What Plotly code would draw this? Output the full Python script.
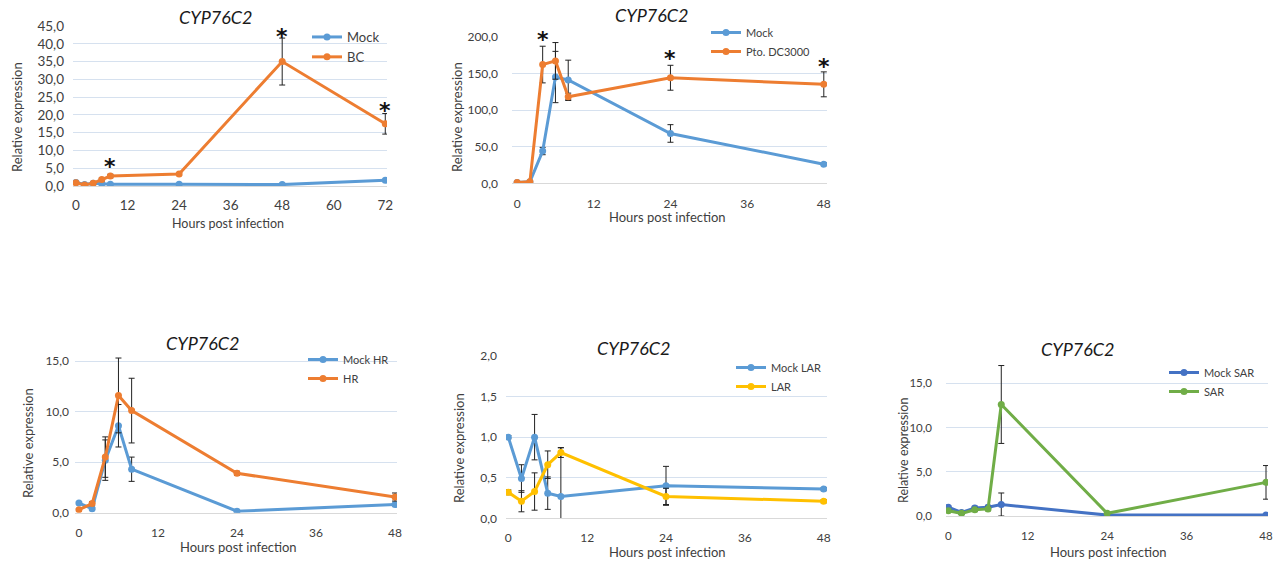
import plotly.graph_objects as go

W, H = 1282, 565

# ---------------- data ----------------
t1 = [0, 2, 4, 6, 8, 24, 48, 72]
mock1 = [1.0, 0.4, 0.8, 0.6, 0.5, 0.5, 0.4, 1.6]
mock1_err = [0.1, 0.1, 0.1, 0.1, 0.1, 0.1, 0.1, 0.2]
bc1 = [0.9, 0.3, 0.8, 1.8, 2.8, 3.4, 35.0, 17.5]
bc1_err = [0.2, 0.1, 0.2, 0.4, 0.5, 0.4, 6.6, 2.9]
star1_t = [8, 48, 72]
star1_y = [6.4, 43.0, 22.0]

t2 = [0, 2, 4, 6, 8, 24, 48]
mock2 = [1, 2, 44, 145, 141, 68, 26]
mock2_err = [0.5, 0.5, 5, 35, 27, 12, 2]
pto2 = [1, 2, 162, 167, 118, 144, 135]
pto2_err = [0.5, 0.5, 25, 25, 5, 17, 17]
star2_t = [4, 24, 48]
star2_y = [200, 175, 164]

t3 = [0, 2, 4, 6, 8, 24, 48]
mockhr = [0.95, 0.4, 5.2, 8.6, 4.3, 0.15, 0.8]
mockhr_err = [0.1, 0.1, 2.0, 2.1, 1.2, 0.05, 0.1]
hr = [0.3, 0.9, 5.5, 11.6, 10.1, 3.9, 1.55]
hr_err = [0.1, 0.2, 2.0, 3.7, 3.2, 0.2, 0.4]

t4 = [0, 2, 4, 6, 8, 24, 48]
mocklar = [1.0, 0.49, 1.0, 0.31, 0.27, 0.40, 0.36]
mocklar_err = [0.02, 0.17, 0.28, 0.2, 0.6, 0.24, 0.02]
lar = [0.32, 0.21, 0.33, 0.66, 0.81, 0.27, 0.21]
lar_err = [0.03, 0.13, 0.23, 0.17, 0.06, 0.1, 0.02]

t5 = [0, 2, 4, 6, 8, 24, 48]
mocksar = [1.0, 0.4, 0.9, 1.0, 1.3, 0.1, 0.1]
mocksar_err = [0.1, 0.1, 0.2, 0.2, 1.3, 0.05, 0.05]
sar = [0.6, 0.3, 0.7, 0.8, 12.6, 0.3, 3.8]
sar_err = [0.1, 0.1, 0.2, 0.2, 4.4, 0.1, 1.9]

title_text = "CYP76C2"
xlab = "Hours post infection"
ylab = "Relative expression"

BLUE = "#5B9BD5"
ORANGE = "#ED7D31"
YELLOW = "#FFC000"
DBLUE = "#4472C4"
GREEN = "#70AD47"
GRID = "#d6e1ef"
TXT = "#404040"
FONT = "Lato"


def px(x):
    return x / W


def py(y):
    return 1 - y / H


fig = go.Figure()

panels = [
    dict(xd=(73, 387), yd=(26, 186), xr=[-0.7, 72.4], yr=[0, 45], dt=5, xt=[0, 12, 24, 36, 48, 60, 72],
         xs=7, ys=8, fs=13.5),
    dict(xd=(512, 827), yd=(36.7, 183.3), xr=[-0.8, 48.5], yr=[0, 200], dt=50, xt=[0, 12, 24, 36, 48],
         xs=9, ys=13, fs=12),
    dict(xd=(75, 397), yd=(355, 512.7), xr=[-0.6, 48.3], yr=[0, 15.6], dt=5, xt=[0, 12, 24, 36, 48],
         xs=9, ys=5, fs=12),
    dict(xd=(506, 827), yd=(356, 518.3), xr=[-0.35, 48.5], yr=[0, 2], dt=0.5, xt=[0, 12, 24, 36, 48],
         xs=8, ys=8, fs=12),
    dict(xd=(946, 1268), yd=(362, 516), xr=[-0.35, 48.3], yr=[0, 17.4], dt=5, xt=[0, 12, 24, 36, 48],
         xs=9, ys=13, fs=11.5),
]

layout_axes = {}
for i, p in enumerate(panels, start=1):
    xa = "xaxis" if i == 1 else f"xaxis{i}"
    ya = "yaxis" if i == 1 else f"yaxis{i}"
    layout_axes[xa] = dict(
        domain=[px(p["xd"][0]), px(p["xd"][1])], range=p["xr"], anchor=f"y{'' if i == 1 else i}",
        tickvals=p["xt"], showgrid=False, zeroline=False, showline=True, linecolor="#d9d9d9",
        linewidth=1, ticks="", tickfont=dict(family=FONT, size=p["fs"], color=TXT),
        ticklabelstandoff=p["xs"], fixedrange=True, automargin=False,
    )
    layout_axes[ya] = dict(
        domain=[py(p["yd"][1]), py(p["yd"][0])], range=p["yr"], anchor=f"x{'' if i == 1 else i}",
        dtick=p["dt"], tick0=0, tickformat=".1f", showgrid=True, gridcolor=GRID, gridwidth=1,
        zeroline=False, showline=False, ticks="", tickfont=dict(family=FONT, size=p["fs"], color=TXT),
        ticklabelstandoff=p["ys"], fixedrange=True, automargin=False,
    )


def add_series(xs, ys, err, color, name, idx):
    fig.add_trace(go.Scatter(
        x=xs, y=ys, name=name, mode="lines+markers",
        line=dict(color=color, width=3),
        marker=dict(color=color, size=7, symbol="circle"),
        error_y=dict(type="data", array=err, visible=True, color="#222222", thickness=1, width=3),
        xaxis=f"x{'' if idx == 1 else idx}", yaxis=f"y{'' if idx == 1 else idx}",
        legend="legend" if idx == 1 else f"legend{idx}",
    ))


add_series(t1, mock1, mock1_err, BLUE, "Mock", 1)
add_series(t1, bc1, bc1_err, ORANGE, "BC", 1)
add_series(t2, mock2, mock2_err, BLUE, "Mock", 2)
add_series(t2, pto2, pto2_err, ORANGE, "Pto. DC3000", 2)
add_series(t3, mockhr, mockhr_err, BLUE, "Mock HR", 3)
add_series(t3, hr, hr_err, ORANGE, "HR", 3)
add_series(t4, mocklar, mocklar_err, BLUE, "Mock LAR", 4)
add_series(t4, lar, lar_err, YELLOW, "LAR", 4)
add_series(t5, mocksar, mocksar_err, DBLUE, "Mock SAR", 5)
add_series(t5, sar, sar_err, GREEN, "SAR", 5)

annotations = []

for tx, ty in zip(star1_t, star1_y):
    annotations.append(dict(x=tx, y=ty, xref="x", yref="y", text="<b>*</b>", showarrow=False,
                            font=dict(family="DejaVu Sans", size=22, color="#111111"), yshift=-3))
for tx, ty in zip(star2_t, star2_y):
    annotations.append(dict(x=tx, y=ty, xref="x2", yref="y2", text="<b>*</b>", showarrow=False,
                            font=dict(family="DejaVu Sans", size=22, color="#111111"), yshift=-3))

titles = [(215, 17), (651, 15), (202, 343), (633, 348), (1077, 349)]
xtitles = [(228, 223, 12.5), (667, 217, 13), (238, 547, 13), (667, 552, 13), (1108, 552, 13)]
ytitles = [(17, 117, 13), (457, 117, 13), (28, 443, 13), (459, 448, 13), (903, 451, 12.5)]
for (tx, ty) in titles:
    annotations.append(dict(x=px(tx), y=py(ty), xref="paper", yref="paper", text=f"<i>{title_text}</i>",
                            showarrow=False, xanchor="center", yanchor="middle",
                            font=dict(family=FONT, size=18, color="#1a1a1a")))
for (tx, ty, fs) in xtitles:
    annotations.append(dict(x=px(tx), y=py(ty), xref="paper", yref="paper", text=xlab,
                            showarrow=False, xanchor="center", yanchor="middle",
                            font=dict(family=FONT, size=fs, color=TXT)))
for (tx, ty, fs) in ytitles:
    annotations.append(dict(x=px(tx), y=py(ty), xref="paper", yref="paper", text=ylab,
                            showarrow=False, xanchor="center", yanchor="middle", textangle=-90,
                            font=dict(family=FONT, size=fs, color=TXT)))

# legends: (text start x, first row center y, font size)
leg_pos = [(351, 33, 13), (750, 29, 11), (347, 356, 11), (775, 364, 11), (1208, 369, 11)]
legends = {}
for i, (lx, ly, fs) in enumerate(leg_pos, start=1):
    key = "legend" if i == 1 else f"legend{i}"
    legends[key] = dict(x=px(lx - 44), y=py(ly - 11), xanchor="left", yanchor="top",
                        bgcolor="rgba(0,0,0,0)", font=dict(family=FONT, size=fs, color=TXT),
                        itemwidth=30, tracegroupgap=0)

fig.update_layout(
    width=W, height=H, autosize=False, margin=dict(l=0, r=0, t=0, b=0, pad=0, autoexpand=False),
    paper_bgcolor="white", plot_bgcolor="white",
    separators=", ", showlegend=True,
    annotations=annotations,
    **layout_axes, **legends,
)

fig.write_html("out.html", config={"displayModeBar": False},
               post_script="document.body.style.margin='0';document.body.style.overflow='hidden';")
